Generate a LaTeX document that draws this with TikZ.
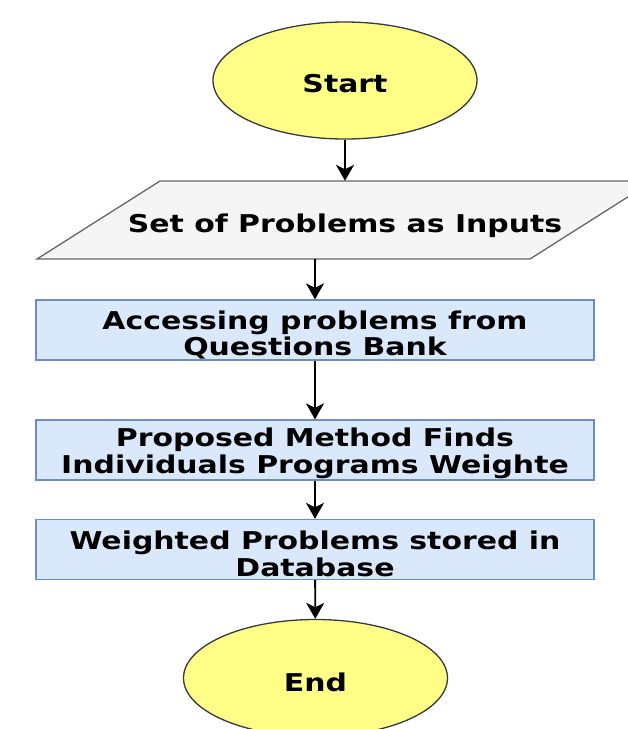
\documentclass[tikz,border=0pt]{standalone}
\usepackage{fontspec}
\setmainfont{DejaVu Sans}
\newfontfamily\lblfont[FakeStretch=1.22]{DejaVu Sans}
\usetikzlibrary{shapes.geometric,arrows.meta}

\definecolor{termfill}{HTML}{FFFF88}
\definecolor{termdraw}{HTML}{36393D}
\definecolor{iofill}{HTML}{F5F5F5}
\definecolor{iodraw}{HTML}{666666}
\definecolor{procfill}{HTML}{DAE8FC}
\definecolor{procdraw}{HTML}{6C8EBF}

% lower a label inside its shape without changing the shape's size
\newcommand{\lowered}[2]{\raisebox{-#1}[\height][\depth]{#2}}

\tikzset{
  lbl/.style={font=\lblfont\fontsize{24.5}{25.5}\selectfont\bfseries, text=black, align=center},
  term/.style={lbl, ellipse, draw=termdraw, fill=termfill, line width=1.3pt,
    minimum width=264pt, minimum height=117pt, inner sep=0pt},
  proc/.style={lbl, rectangle, draw=procdraw, fill=procfill, line width=1.3pt,
    minimum width=558pt, minimum height=60pt, inner sep=0pt},
  iotext/.style={lbl, rectangle, minimum width=300pt, minimum height=78pt, inner sep=0pt},
  arr/.style={-{Stealth[length=16pt,width=18pt,inset=4.5pt]}, line width=1.8pt, black}
}

\begin{document}
\begin{tikzpicture}[x=1pt,y=-1pt]
  \useasboundingbox (0,0) rectangle (628,729);

  % terminators, input and process steps
  \node[term] (start) at (345,80.5) {\lowered{3pt}{Start}};

  \path[draw=iodraw, fill=iofill, line width=1.3pt]
    (37,259) -- (160,181) -- (653,181) -- (530,259) -- cycle;
  \node[iotext] (inp) at (345,220) {\lowered{6pt}{Set of Problems as Inputs}};

  \node[proc] (b1) at (315,330) {\lowered{5pt}{\shortstack{Accessing problems from\\Questions Bank}}};
  \node[proc] (b2) at (315,450) {\lowered{3.5pt}{\shortstack{Proposed Method Finds\\Individuals Programs Weighte}}};
  \node[proc] (b3) at (315,549.5) {\lowered{4pt}{\shortstack{Weighted Problems stored in\\Database}}};

  \node[term] (end) at (315.5,678) {\lowered{4pt}{End}};

  % flow connectors
  \draw[arr] (start) -- (inp.north);
  \draw[arr] (b1.north |- inp.south) -- (b1.north);
  \draw[arr] (b1) -- (b2);
  \draw[arr] (b2) -- (b3);
  \draw[arr] (b3) -- (end);
\end{tikzpicture}
\end{document}
